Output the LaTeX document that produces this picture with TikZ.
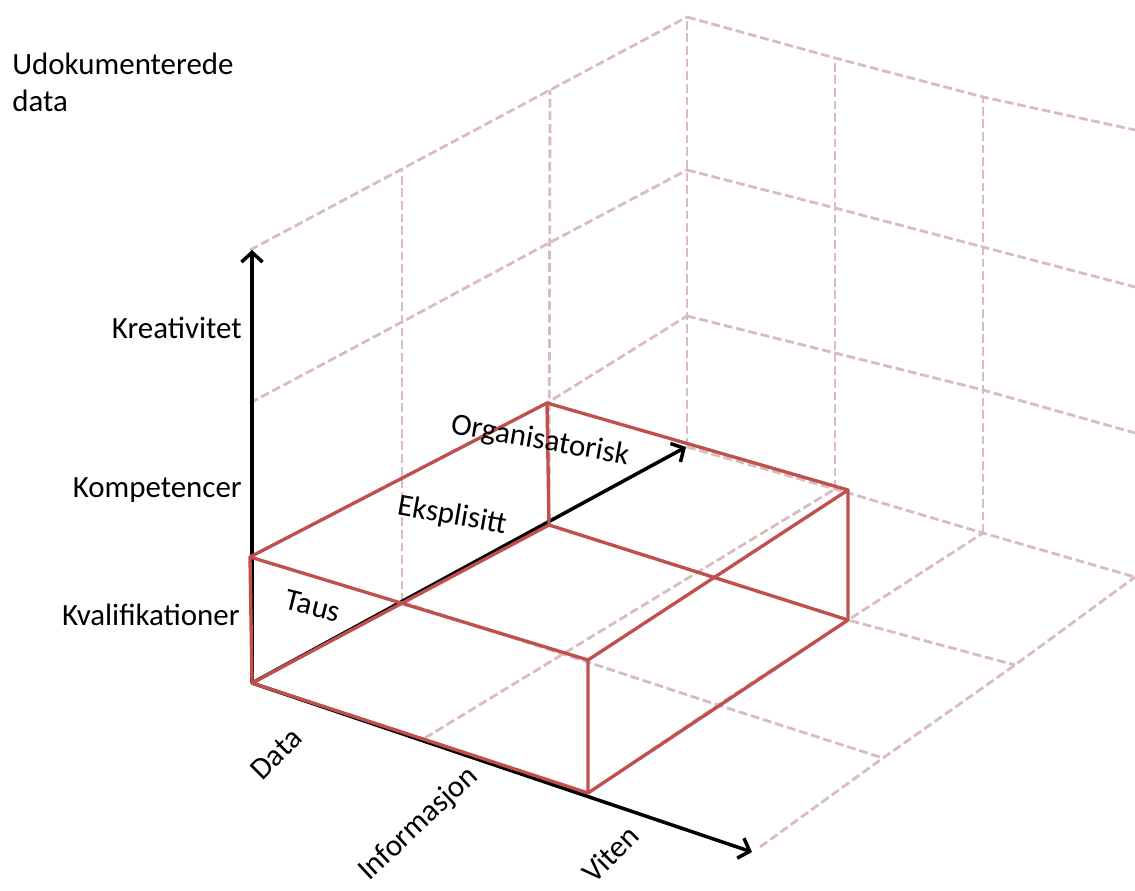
\documentclass[tikz,border=0pt]{standalone}
\usepackage{fontspec}
\setmainfont{Carlito}
\usetikzlibrary{arrows.meta}
\definecolor{boxred}{RGB}{192,80,77}
\definecolor{gridpink}{RGB}{218,188,190}

\begin{document}
\begin{tikzpicture}[x=0.02cm, y=-0.02cm,
    grid3d/.style={draw=gridpink, line width=1.6pt, dash pattern=on 5pt off 2.2pt},
    boxline/.style={draw=boxred, line width=1.9pt, line join=round},
    axis/.style={draw=black, line width=2pt, -{Straight Barb[length=5.5pt, width=12pt]}},
    lbl/.style={font=\fontsize{17.6}{21}\selectfont, inner sep=0pt}]

  \useasboundingbox (0,0) rectangle (1135,891);

  % left wall (x = 0), L<d><z>
  \coordinate (L00) at (252,683); \coordinate (L01) at (250,557); \coordinate (L02) at (250,403); \coordinate (L03) at (250,250);
  \coordinate (L10) at (402,602); \coordinate (L11) at (402,478); \coordinate (L12) at (402,322); \coordinate (L13) at (402,169);
  \coordinate (L20) at (549,525); \coordinate (L21) at (547,403); \coordinate (L22) at (549,243); \coordinate (L23) at (550,90);
  \coordinate (L30) at (687,447); \coordinate (L31) at (687,316); \coordinate (L32) at (687,170); \coordinate (L33) at (687,17);
  % right wall (depth = 3), R<x><z>
  \coordinate (R10) at (835,489); \coordinate (R11) at (835,353); \coordinate (R12) at (835,208); \coordinate (R13) at (835,58);
  \coordinate (R20) at (983,533); \coordinate (R21) at (983,390); \coordinate (R22) at (983,247); \coordinate (R23) at (983,97);
  \coordinate (R30) at (1135,577); \coordinate (R31) at (1135,433); \coordinate (R32) at (1135,287); \coordinate (R33) at (1135,130);
  % floor, F<x><d>
  \coordinate (F10) at (425,738); \coordinate (F11) at (563,654); \coordinate (F12) at (698,572);
  \coordinate (F20) at (588,793); \coordinate (F21) at (718,705); \coordinate (F22) at (848,620);
  \coordinate (F30) at (760,847); \coordinate (F31) at (883,758); \coordinate (F32) at (1015,665);

  % dashed grid
  \foreach \d in {1,2,3}
    \draw[grid3d] (L\d0) -- (L\d3);
  \foreach \z in {1,2,3}
    \draw[grid3d] (L0\z) -- (L1\z) -- (L2\z) -- (L3\z);
  \foreach \x in {1,2}
    \draw[grid3d] (R\x0) -- (R\x3);
  \foreach \z in {0,1,2,3}
    \draw[grid3d] (L3\z) -- (R1\z) -- (R2\z) -- (R3\z);
  \foreach \x in {1,2,3}
    \draw[grid3d] (F\x0) -- (F\x1) -- (F\x2) -- (R\x0);
  \draw[grid3d] (L10) -- (F11) -- (F21) -- (F31);
  \draw[grid3d] (L20) -- (F12) -- (F22) -- (F32);

  % axes
  \draw[axis] (L00) -- (252,250);
  \draw[axis] (L00) -- (752,852);
  \draw[axis] (L00) -- (686,447);

  % red box
  \coordinate (XZ) at (588,660);
  \coordinate (XDZ) at (848,490);
  \draw[boxline] (L00) -- (F20) -- (F22) -- (L20) -- cycle;
  \draw[boxline] (L01) -- (XZ) -- (XDZ) -- (L21) -- cycle;
  \draw[boxline] (L00) -- (L01) (F20) -- (XZ) (F22) -- (XDZ) (L20) -- (L21);

  % labels
  \node[lbl, anchor=north west, align=left] (undoc) at (12,53) {Udokumenterede\\data};
  \node[lbl, anchor=base east] (kreativ) at (242,339) {Kreativitet};
  \node[lbl, anchor=base east] (kompet) at (242,497) {Kompetencer};
  \node[lbl, anchor=base east] (kvalif) at (240,625) {Kvalifikationer};
  \node[lbl, rotate=-14] (taus) at (313,606) {Taus};
  \node[lbl, rotate=-10] (ekspl) at (452,516) {Eksplisitt};
  \node[lbl, rotate=-10] (organ) at (540,441) {Organisatorisk};
  \node[lbl, rotate=45] (data) at (276,754) {Data};
  \node[lbl, rotate=43] (inform) at (419,824) {Informasjon};
  \node[lbl, rotate=45] (viten) at (610,854) {Viten};
\end{tikzpicture}
\end{document}
